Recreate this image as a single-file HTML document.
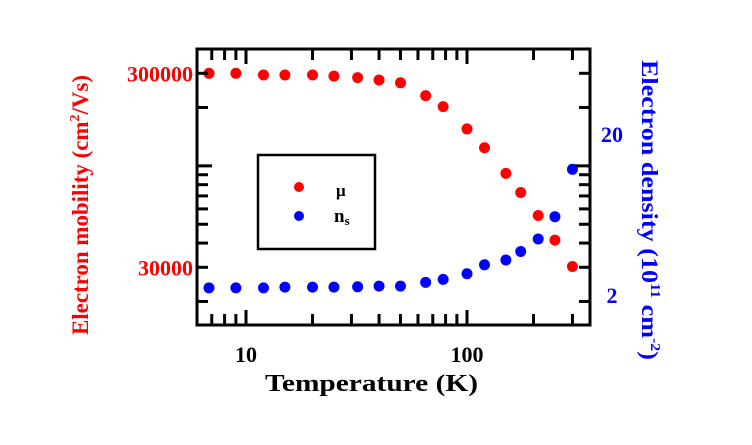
<!DOCTYPE html>
<html><head><meta charset="utf-8"><style>
body{margin:0;background:#fff;}
svg text{font-family:"Liberation Serif",serif;font-weight:bold;}
</style></head><body>
<svg id="chart" width="752" height="440" xmlns="http://www.w3.org/2000/svg">
<rect width="752" height="440" fill="#fff"/>
<g id="marks"></g>
<rect x="197" y="49" width="393" height="276" fill="none" stroke="#000" stroke-width="3"/>
<g id="ticks"></g>
<rect x="258" y="155" width="117" height="94" fill="none" stroke="#000" stroke-width="2.5"/>
<circle cx="299" cy="187" r="5" fill="#f00"/>
<text x="336" y="196" font-size="17" fill="#000" font-weight="normal">μ</text>
<circle cx="299" cy="216" r="5" fill="#00f"/>
<text x="334" y="222" font-size="19" fill="#000" font-family="Liberation Sans">n<tspan font-size="13" dy="3">s</tspan></text>
<text x="265" y="391" font-size="24" textLength="213" lengthAdjust="spacingAndGlyphs" fill="#000">Temperature (K)</text>
<text transform="translate(88,335) rotate(-90)" font-size="23" textLength="260" lengthAdjust="spacingAndGlyphs" fill="#f00">Electron mobility (cm<tspan font-size="14" dy="-9">2</tspan><tspan dy="9">/Vs)</tspan></text>
<text transform="translate(642,60) rotate(90)" font-size="23" textLength="300" lengthAdjust="spacingAndGlyphs" fill="#00f">Electron density (10<tspan font-size="14" dy="-9">11</tspan><tspan dy="9"> cm</tspan><tspan font-size="14" dy="-9">-2</tspan><tspan dy="9">)</tspan></text>
</svg>
<script>
const temps=[6.8,9,12,15,20,25,32,40,50,65,78,100,120,150,175,210,250,300];
const mobility=[300000,300000,294000,294000,294000,290000,285000,277000,268000,230000,202000,155000,124000,91500,72900,55500,41400,30300];
const density=[2.35,2.35,2.35,2.37,2.37,2.37,2.38,2.40,2.40,2.51,2.60,2.78,3.09,3.27,3.62,4.20,5.47,9.6];
const xMajor=[10,100];
const xMinor=[7,8,9,20,30,40,50,60,70,80,90,200,300];
const xTickLabels=["10","100"];
const yMajorLeft=[100000];
const yMinorLeft=[300000,200000,90000,80000,70000,60000,50000,40000,30000,20000];
const leftLabelVals=[300000,30000];
const leftLabels=["300000","30000"];
const rightLabelVals=[20,2];
const rightLabels=["20","2"];
const X0=197,X1=590,Y0=49,Y1=325;
function xs(t){return 246+221*(Math.log10(t)-1);}
function yl(v){return 73.3-194*(Math.log10(v)-Math.log10(300000));}
function yr(v){return 73.3-194*(Math.log10(v)-Math.log10(30));}
function yrLabel(v){return 303-161*(Math.log10(v)-Math.log10(2));}
const NS="http://www.w3.org/2000/svg";
const marks=document.getElementById('marks'),ticks=document.getElementById('ticks'),svg=document.getElementById('chart');
function mk(tag,at,parent){const e=document.createElementNS(NS,tag);for(const k in at)e.setAttribute(k,at[k]);parent.appendChild(e);return e;}
function line(x1,y1,x2,y2){return mk('line',{x1:x1,y1:y1,x2:x2,y2:y2,stroke:'#000','stroke-width':3},ticks);}
temps.forEach((t,i)=>{
 const c=mk('circle',{cx:xs(t),cy:yl(mobility[i]),r:5.5,fill:'#f00'},marks);
 
 
 const b=mk('circle',{cx:xs(t),cy:yr(density[i]),r:5.5,fill:'#00f'},marks);
 
 
});
xMajor.forEach((t,i)=>{
 const x=xs(t);
 const a=line(x,Y1,x,Y1-15);
 const b=line(x,Y0,x,Y0+15);
 const l=mk('text',{x:x,y:362,'font-size':22,'text-anchor':'middle',fill:'#000'},svg);l.textContent=xTickLabels[i];
 
 
});
xMinor.forEach(t=>{
 const x=xs(t);
 const a=line(x,Y1,x,Y1-11);
 const b=line(x,Y0,x,Y0+11);
});
yMajorLeft.forEach(v=>{
 const y=yl(v);
 const a=line(X0,y,X0+15,y);
 const b=line(X1,y,X1-15,y);
});
yMinorLeft.forEach(v=>{
 const y=yl(v);
 const a=line(X0,y,X0+11,y);
 const b=line(X1,y,X1-11,y);
});
leftLabelVals.forEach((v,i)=>{
 const l=mk('text',{x:193,y:yl(v)+8,'font-size':22,'text-anchor':'end',fill:'#f00'},svg);l.textContent=leftLabels[i];
 
 
});
rightLabelVals.forEach((v,i)=>{
 const l=mk('text',{x:612,y:yrLabel(v),'font-size':22,'text-anchor':'middle',fill:'#00f'},svg);l.textContent=rightLabels[i];
 
 
});
</script>
</body></html>
